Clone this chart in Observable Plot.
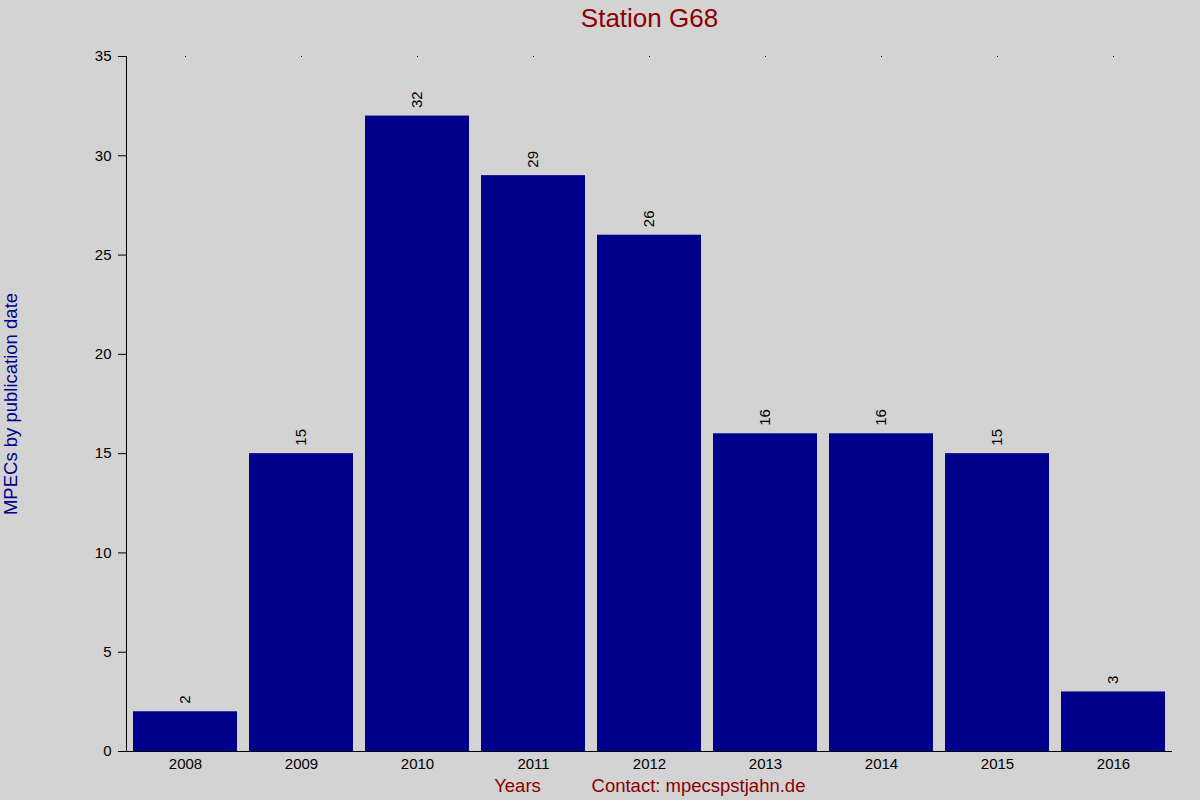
<!DOCTYPE html>
<html>
<head>
<meta charset="utf-8">
<script src="https://cdn.jsdelivr.net/npm/d3@7"></script>
<script src="https://cdn.jsdelivr.net/npm/@observablehq/plot@0.6"></script>
<style>
  html, body { margin: 0; padding: 0; background: #d3d3d3; }
  body { width: 1200px; height: 800px; overflow: hidden; font-family: "Liberation Sans", Arial, sans-serif; }
</style>
</head>
<body>
<div id="chart"></div>
<script>
const years = ["2008", "2009", "2010", "2011", "2012", "2013", "2014", "2015", "2016"];
const counts = [2, 15, 32, 29, 26, 16, 16, 15, 3];
const yTicks = [0, 5, 10, 15, 20, 25, 30, 35];
const titleText = "Station G68";
const yLabel = "MPECs by publication date";
const xLabel = "Years";
const contact = "Contact: mpecspstjahn.de";

const data = years.map((y, i) => ({year: y, value: counts[i]}));

const chart = Plot.plot({
  width: 1200,
  height: 800,
  marginTop: 56,
  marginBottom: 49,
  marginLeft: 126,
  marginRight: 28,
  style: {background: "#d3d3d3", fontFamily: "'Liberation Sans', Arial, sans-serif", fontSize: "15px", color: "black"},
  x: {domain: years, paddingInner: 0.1, paddingOuter: 0.05, label: null},
  y: {domain: [0, 35], label: null},
  marks: [
    Plot.barY(data, {x: "year", y: "value", fill: "#00008b"}),
    Plot.text(data, {x: "year", y: "value", text: d => String(d.value), rotate: -90, textAnchor: "start", lineAnchor: "middle", dy: -8, fontSize: 15, fill: "black"}),
    Plot.axisY({ticks: yTicks, tickSize: 8, tickPadding: 7, fontSize: 15, label: null, stroke: "black"}),
    Plot.frame({anchor: "left", stroke: "black"}),
    Plot.ruleY([0], {stroke: "black"}),
    Plot.axisX({anchor: "bottom", tickSize: 0, tickPadding: 7, fontSize: 15, label: null}),
    Plot.axisX({anchor: "top", tickSize: 1, text: null, label: null}),
    Plot.text([titleText], {frameAnchor: "top", dy: -38, fontSize: 26, fill: "#8b0000", text: d => d, lineAnchor: "middle"}),
    Plot.text([yLabel], {frameAnchor: "left", dx: -115, rotate: -90, textAnchor: "middle", fontSize: 18.5, fill: "#00008b", text: d => d, lineAnchor: "middle"}),
    Plot.text([xLabel], {frameAnchor: "bottom-left", dx: 391, dy: 35, textAnchor: "middle", fontSize: 18.5, fill: "#8b0000", text: d => d, lineAnchor: "middle"}),
    Plot.text([contact], {frameAnchor: "bottom-left", dx: 572, dy: 35, textAnchor: "middle", fontSize: 18.5, fill: "#8b0000", text: d => d, lineAnchor: "middle"})
  ]
});
document.getElementById("chart").appendChild(chart);
</script>
</body>
</html>
